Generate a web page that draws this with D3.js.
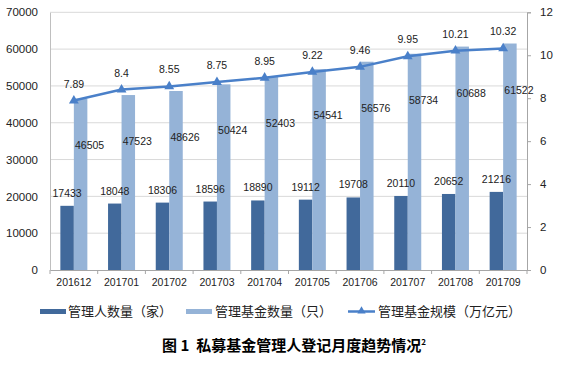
<!DOCTYPE html>
<html>
<head>
<meta charset="utf-8">
<script src="https://cdn.jsdelivr.net/npm/d3@7"></script>
<style>
  html, body { margin: 0; padding: 0; background: #fff; }
  svg { display: block; }
</style>
</head>
<body>
<svg id="chart" width="584" height="366"></svg>
<script>
const categories = ["201612","201701","201702","201703","201704","201705","201706","201707","201708","201709"];
const managers = [17433,18048,18306,18596,18890,19112,19708,20110,20652,21216];
const funds = [46505,47523,48626,50424,52403,54541,56576,58734,60688,61522];
const scale = [7.89,8.4,8.55,8.75,8.95,9.22,9.46,9.95,10.21,10.32];
const leftTicks = [0,10000,20000,30000,40000,50000,60000,70000];
const rightTicks = [0,2,4,6,8,10,12];
const legendLabels = ["管理人数量（家）","管理基金数量（只）","管理基金规模（万亿元）"];
const titleText = "图 1  私募基金管理人登记月度趋势情况";

const svg = d3.select("#chart");
const L = 50, R = 527, T = 12.3, B = 270;
const numFont = "'Liberation Sans', Arial, sans-serif";
const cjkFont = "'Noto Sans CJK SC', sans-serif";
const cDark = "#41699b", cLight = "#95b3d7", cLine = "#4a80c9";

const x = d3.scaleBand().domain(categories).range([L, R]).paddingInner(0).paddingOuter(0);
const y0 = d3.scaleLinear().domain([0, 70000]).range([B, T]);
const y1 = d3.scaleLinear().domain([0, 12]).range([B, T]);
const bw = 13.5;

// gridlines
svg.append("g").selectAll("line").data(leftTicks.filter(d => d > 0)).join("line")
  .attr("x1", L).attr("x2", R).attr("y1", d => y0(d)).attr("y2", d => y0(d))
  .attr("stroke", "#d9d9d9").attr("stroke-width", 1);

// left axis
const gl = svg.append("g").attr("transform", `translate(${L},0)`)
  .call(d3.axisLeft(y0).tickValues(leftTicks).tickSize(0).tickPadding(12).tickFormat(d3.format("d")));
gl.select(".domain").attr("stroke", "#bfbfbf");
gl.selectAll("text").attr("font-family", numFont).attr("font-size", 11.5).attr("fill", "#222");

// right axis
const gr = svg.append("g").attr("transform", `translate(${R},0)`)
  .call(d3.axisRight(y1).tickValues(rightTicks).tickSize(4).tickPadding(9));
gr.select(".domain").attr("stroke", "#a6a6a6");
gr.selectAll(".tick line").attr("stroke", "#a6a6a6");
gr.selectAll("text").attr("font-family", numFont).attr("font-size", 11.5).attr("fill", "#222");

// bottom axis
const gb = svg.append("g").attr("transform", `translate(0,${B})`)
  .call(d3.axisBottom(x).tickSize(0).tickPadding(10));
gb.select(".domain").attr("stroke", "#a6a6a6");
gb.selectAll("text").attr("font-family", numFont).attr("font-size", 10.5).attr("fill", "#222").attr("dy", "0.6em");
// boundary tick marks
const bounds = categories.map(c => x(c)).concat([R]);
svg.append("g").selectAll("line").data(bounds).join("line")
  .attr("x1", d => d).attr("x2", d => d).attr("y1", B).attr("y2", B + 4)
  .attr("stroke", "#a6a6a6");

const cx = c => x(c) + x.bandwidth() / 2;

// bars
svg.append("g").selectAll("rect").data(categories).join("rect")
  .attr("x", c => cx(c) - bw).attr("width", bw)
  .attr("y", (c, i) => y0(managers[i])).attr("height", (c, i) => B - y0(managers[i]))
  .attr("fill", cDark);
svg.append("g").selectAll("rect").data(categories).join("rect")
  .attr("x", c => cx(c)).attr("width", bw)
  .attr("y", (c, i) => y0(funds[i])).attr("height", (c, i) => B - y0(funds[i]))
  .attr("fill", cLight);

// line
const line = d3.line().x((d, i) => cx(categories[i])).y(d => y1(d));
svg.append("path").datum(scale).attr("d", line)
  .attr("fill", "none").attr("stroke", cLine).attr("stroke-width", 2.5);
const tri = d3.symbol().type(d3.symbolTriangle).size(42);
svg.append("g").selectAll("path").data(scale).join("path")
  .attr("d", tri).attr("transform", (d, i) => `translate(${cx(categories[i])},${y1(d)})`)
  .attr("fill", cLine);

// data labels
const lbl = svg.append("g").attr("font-family", numFont).attr("font-size", 10.5).attr("fill", "#222").attr("text-anchor", "middle");
lbl.selectAll(".m").data(managers).join("text").attr("class", "m")
  .attr("x", (d, i) => cx(categories[i]) - bw / 2)
  .attr("y", d => y0(d) - 9).text(d => d);
lbl.selectAll(".f").data(funds).join("text").attr("class", "f")
  .attr("x", (d, i) => cx(categories[i]) + bw / 2 + 9)
  .attr("y", d => y0(d) + 50).text(d => d);
lbl.selectAll(".s").data(scale).join("text").attr("class", "s")
  .attr("x", (d, i) => cx(categories[i]))
  .attr("y", d => y1(d) - 13).text(d => d);

// legend
const lg = svg.append("g").attr("font-family", cjkFont).attr("font-size", 13).attr("fill", "#222");
lg.append("rect").attr("x", 40).attr("y", 309).attr("width", 26).attr("height", 5).attr("fill", cDark);
lg.append("text").attr("x", 68).attr("y", 315.5).text(legendLabels[0]);
lg.append("rect").attr("x", 186).attr("y", 309).attr("width", 26).attr("height", 5).attr("fill", cLight);
lg.append("text").attr("x", 215).attr("y", 315.5).text(legendLabels[1]);
lg.append("line").attr("x1", 348).attr("x2", 375).attr("y1", 311.5).attr("y2", 311.5).attr("stroke", cLine).attr("stroke-width", 2.5);
lg.append("path").attr("d", d3.symbol().type(d3.symbolTriangle).size(30)).attr("transform", "translate(361.5,311)").attr("fill", cLine);
lg.append("text").attr("x", 378).attr("y", 315.5).text(legendLabels[2]);

// title
const tt = svg.append("text").attr("x", 294).attr("y", 351).attr("text-anchor", "middle")
  .attr("font-family", cjkFont).attr("font-weight", "bold").attr("font-size", 15).attr("fill", "#000")
  .attr("xml:space", "preserve");
tt.append("tspan").text(titleText);
tt.append("tspan").attr("font-size", 8).attr("dy", -6).text("2");
</script>
</body>
</html>
